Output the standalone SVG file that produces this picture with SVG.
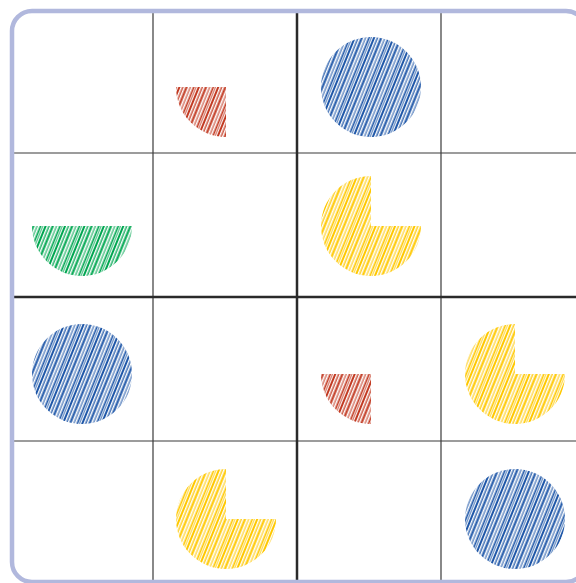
<svg xmlns="http://www.w3.org/2000/svg" width="576" height="583" viewBox="0 0 576 583">
<style>
.thin{stroke:#3a3a3a;stroke-width:1.2;fill:none}
.thick{stroke:#2a2a2a;stroke-width:2.5;fill:none}
.frame{fill:none;stroke:#b1b8dd;stroke-width:4.5}
</style>
<defs>
<g id="stripes"><rect x="0" y="0" width="2" height="18"/><rect x="3.5" y="0" width="1.3" height="18"/><rect x="6.5" y="0" width="2.2" height="18"/><rect x="10.5" y="0" width="1.2" height="18" opacity="0.85"/><rect x="13.5" y="0" width="1.8" height="18"/><rect x="16.2" y="0" width="0.9" height="18" opacity="0.8"/></g>
<pattern id="hb" patternUnits="userSpaceOnUse" width="18" height="18" patternTransform="rotate(22)"><use href="#stripes" fill="#1f57a8"/></pattern>
<pattern id="hr" patternUnits="userSpaceOnUse" width="18" height="18" patternTransform="rotate(22)"><use href="#stripes" fill="#c23a22"/></pattern>
<pattern id="hg" patternUnits="userSpaceOnUse" width="18" height="18" patternTransform="rotate(22)"><use href="#stripes" fill="#00a650"/></pattern>
<pattern id="hy" patternUnits="userSpaceOnUse" width="18" height="18" patternTransform="rotate(22)"><use href="#stripes" fill="#ffc800"/></pattern>
<clipPath id="fc"><rect x="12" y="11" width="574" height="571" rx="20"/></clipPath>
</defs>
<rect width="576" height="583" fill="#ffffff"/>
<g id="grid" clip-path="url(#fc)">
<line class="thin" x1="153" y1="0" x2="153" y2="583"/>
<line class="thin" x1="441" y1="0" x2="441" y2="583"/>
<line class="thin" x1="0" y1="153" x2="576" y2="153"/>
<line class="thin" x1="0" y1="441" x2="576" y2="441"/>
<line class="thick" x1="297" y1="0" x2="297" y2="583"/>
<line class="thick" x1="0" y1="297" x2="576" y2="297"/>
</g>
<rect class="frame" x="12" y="11" width="574" height="571" rx="20"/>
<g id="r0c1"><path d="M226,87 L176,87 A50,50 0 0 0 226,137 Z" fill="url(#hr)"/></g>
<g id="r0c2"><circle cx="371" cy="87" r="50" fill="url(#hb)"/></g>
<g id="r1c0"><path d="M32,226 L132,226 A50,50 0 0 1 32,226 Z" fill="url(#hg)"/></g>
<g id="r1c2"><path d="M371,226 L371,176 A50,50 0 1 0 421,226 Z" fill="url(#hy)"/></g>
<g id="r2c0"><circle cx="82" cy="374" r="50" fill="url(#hb)"/></g>
<g id="r2c2"><path d="M371,374 L321,374 A50,50 0 0 0 371,424 Z" fill="url(#hr)"/></g>
<g id="r2c3"><path d="M515,374 L515,324 A50,50 0 1 0 565,374 Z" fill="url(#hy)"/></g>
<g id="r3c1"><path d="M226,519 L226,469 A50,50 0 1 0 276,519 Z" fill="url(#hy)"/></g>
<g id="r3c3"><circle cx="515" cy="519" r="50" fill="url(#hb)"/></g>
</svg>
